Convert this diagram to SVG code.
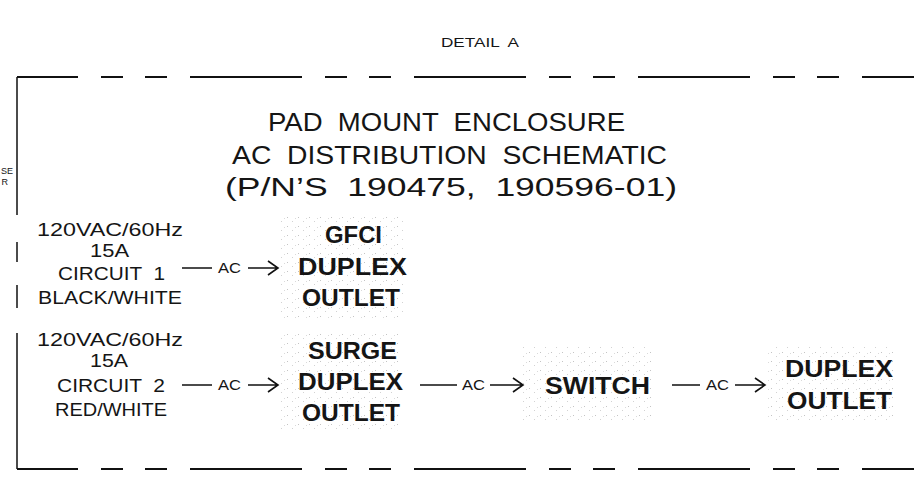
<svg xmlns="http://www.w3.org/2000/svg" width="914" height="477" viewBox="0 0 914 477">
<style>
  .t { font-family: "Liberation Sans", Arial, sans-serif; fill: #151515; }
  .title { font-size: 25px; white-space: pre; }
  .src { font-size: 18px; }
  .node { font-size: 24px; font-weight: bold; }
  .ac { font-size: 15px; }
  .small { font-size: 12px; white-space: pre; }
  .frame { stroke: #111; fill: none; }
  .dash { stroke-width: 2; stroke-dasharray: 112 23 22 22 22 23; stroke-dashoffset: 51; }
  .wire { stroke: #111; stroke-width: 1.6; fill: none; }
  .speck { fill: url(#speckle); stroke: none; }
</style>
<defs>
  <pattern id="speckle" width="11" height="9" patternUnits="userSpaceOnUse">
    <rect x="1" y="1" width="1" height="1" fill="#c4c4c4"/>
    <rect x="6" y="5" width="1" height="1" fill="#d2d2d2"/>
    <rect x="9" y="2" width="1" height="1" fill="#dadada"/>
  </pattern>
</defs>
<rect width="914" height="477" fill="#fff"/>

<g id="header">
  <text class="t small" x="441" y="47" textLength="78" lengthAdjust="spacingAndGlyphs">DETAIL  A</text>
  <text class="t" style="font-size:9px" x="13" y="174" text-anchor="end">SE</text>
  <text class="t" style="font-size:9px" x="8" y="185" text-anchor="end">R</text>
</g>

<g id="frame">
  <line class="frame dash" x1="17" y1="77" x2="914" y2="77"/>
  <line class="frame dash" x1="17" y1="469" x2="914" y2="469"/>
  <path class="frame" stroke-width="1.5" d="M17 77 V215 M17 242 V262 M17 285 V308 M17 333 V469"/>
</g>

<g id="title">
  <text class="t title" x="268" y="131" textLength="357" lengthAdjust="spacingAndGlyphs">PAD  MOUNT  ENCLOSURE</text>
  <text class="t title" x="232" y="164" textLength="435" lengthAdjust="spacingAndGlyphs">AC  DISTRIBUTION  SCHEMATIC</text>
  <text class="t title" x="225" y="196" textLength="452" lengthAdjust="spacingAndGlyphs">(P/N’S  190475,  190596-01)</text>
</g>

<g id="source1">
  <text class="t src" x="37" y="236" textLength="146" lengthAdjust="spacingAndGlyphs">120VAC/60Hz</text>
  <text class="t src" x="90" y="257" textLength="39" lengthAdjust="spacingAndGlyphs">15A</text>
  <text class="t src" x="58" y="280" textLength="107" lengthAdjust="spacingAndGlyphs" style="white-space:pre">CIRCUIT  1</text>
  <text class="t src" x="38" y="304" textLength="144" lengthAdjust="spacingAndGlyphs">BLACK/WHITE</text>
</g>

<g id="source2">
  <text class="t src" x="37" y="346" textLength="146" lengthAdjust="spacingAndGlyphs">120VAC/60Hz</text>
  <text class="t src" x="90" y="367" textLength="38" lengthAdjust="spacingAndGlyphs">15A</text>
  <text class="t src" x="57" y="392" textLength="108" lengthAdjust="spacingAndGlyphs" style="white-space:pre">CIRCUIT  2</text>
  <text class="t src" x="55" y="416" textLength="112" lengthAdjust="spacingAndGlyphs">RED/WHITE</text>
</g>

<g id="gfci">
  <rect class="speck" x="278" y="215" width="127" height="103"/>
  <text class="t node" x="325" y="243" textLength="57" lengthAdjust="spacingAndGlyphs">GFCI</text>
  <text class="t node" x="298" y="275" textLength="109" lengthAdjust="spacingAndGlyphs">DUPLEX</text>
  <text class="t node" x="302" y="306" textLength="98" lengthAdjust="spacingAndGlyphs">OUTLET</text>
</g>

<g id="surge">
  <rect class="speck" x="277" y="330" width="123" height="103"/>
  <text class="t node" x="308" y="359" textLength="89" lengthAdjust="spacingAndGlyphs">SURGE</text>
  <text class="t node" x="298" y="390" textLength="105" lengthAdjust="spacingAndGlyphs">DUPLEX</text>
  <text class="t node" x="302" y="421" textLength="98" lengthAdjust="spacingAndGlyphs">OUTLET</text>
</g>

<g id="switch">
  <rect class="speck" x="523" y="345" width="130" height="77"/>
  <text class="t node" x="545" y="394" textLength="105" lengthAdjust="spacingAndGlyphs">SWITCH</text>
</g>

<g id="outlet">
  <rect class="speck" x="767" y="345" width="130" height="75"/>
  <text class="t node" x="785" y="377" textLength="108" lengthAdjust="spacingAndGlyphs">DUPLEX</text>
  <text class="t node" x="787" y="409" textLength="105" lengthAdjust="spacingAndGlyphs">OUTLET</text>
</g>

<g id="connectors">
  <g id="c1">
    <path class="wire" d="M182 268 H212 M248 268 H277 M268 261 L278 268 L268 275"/>
    <text class="t ac" x="218" y="273" textLength="23" lengthAdjust="spacingAndGlyphs">AC</text>
  </g>
  <g id="c2">
    <path class="wire" d="M182 385 H212 M248 385 H277 M268 378 L278 385 L268 392"/>
    <text class="t ac" x="218" y="390" textLength="23" lengthAdjust="spacingAndGlyphs">AC</text>
  </g>
  <g id="c3">
    <path class="wire" d="M420 385 H457 M490 385 H522 M513 378 L523 385 L513 392"/>
    <text class="t ac" x="462" y="390" textLength="23" lengthAdjust="spacingAndGlyphs">AC</text>
  </g>
  <g id="c4">
    <path class="wire" d="M672 385 H700 M735 385 H764 M755 378 L765 385 L755 392"/>
    <text class="t ac" x="706" y="390" textLength="23" lengthAdjust="spacingAndGlyphs">AC</text>
  </g>
</g>
</svg>
